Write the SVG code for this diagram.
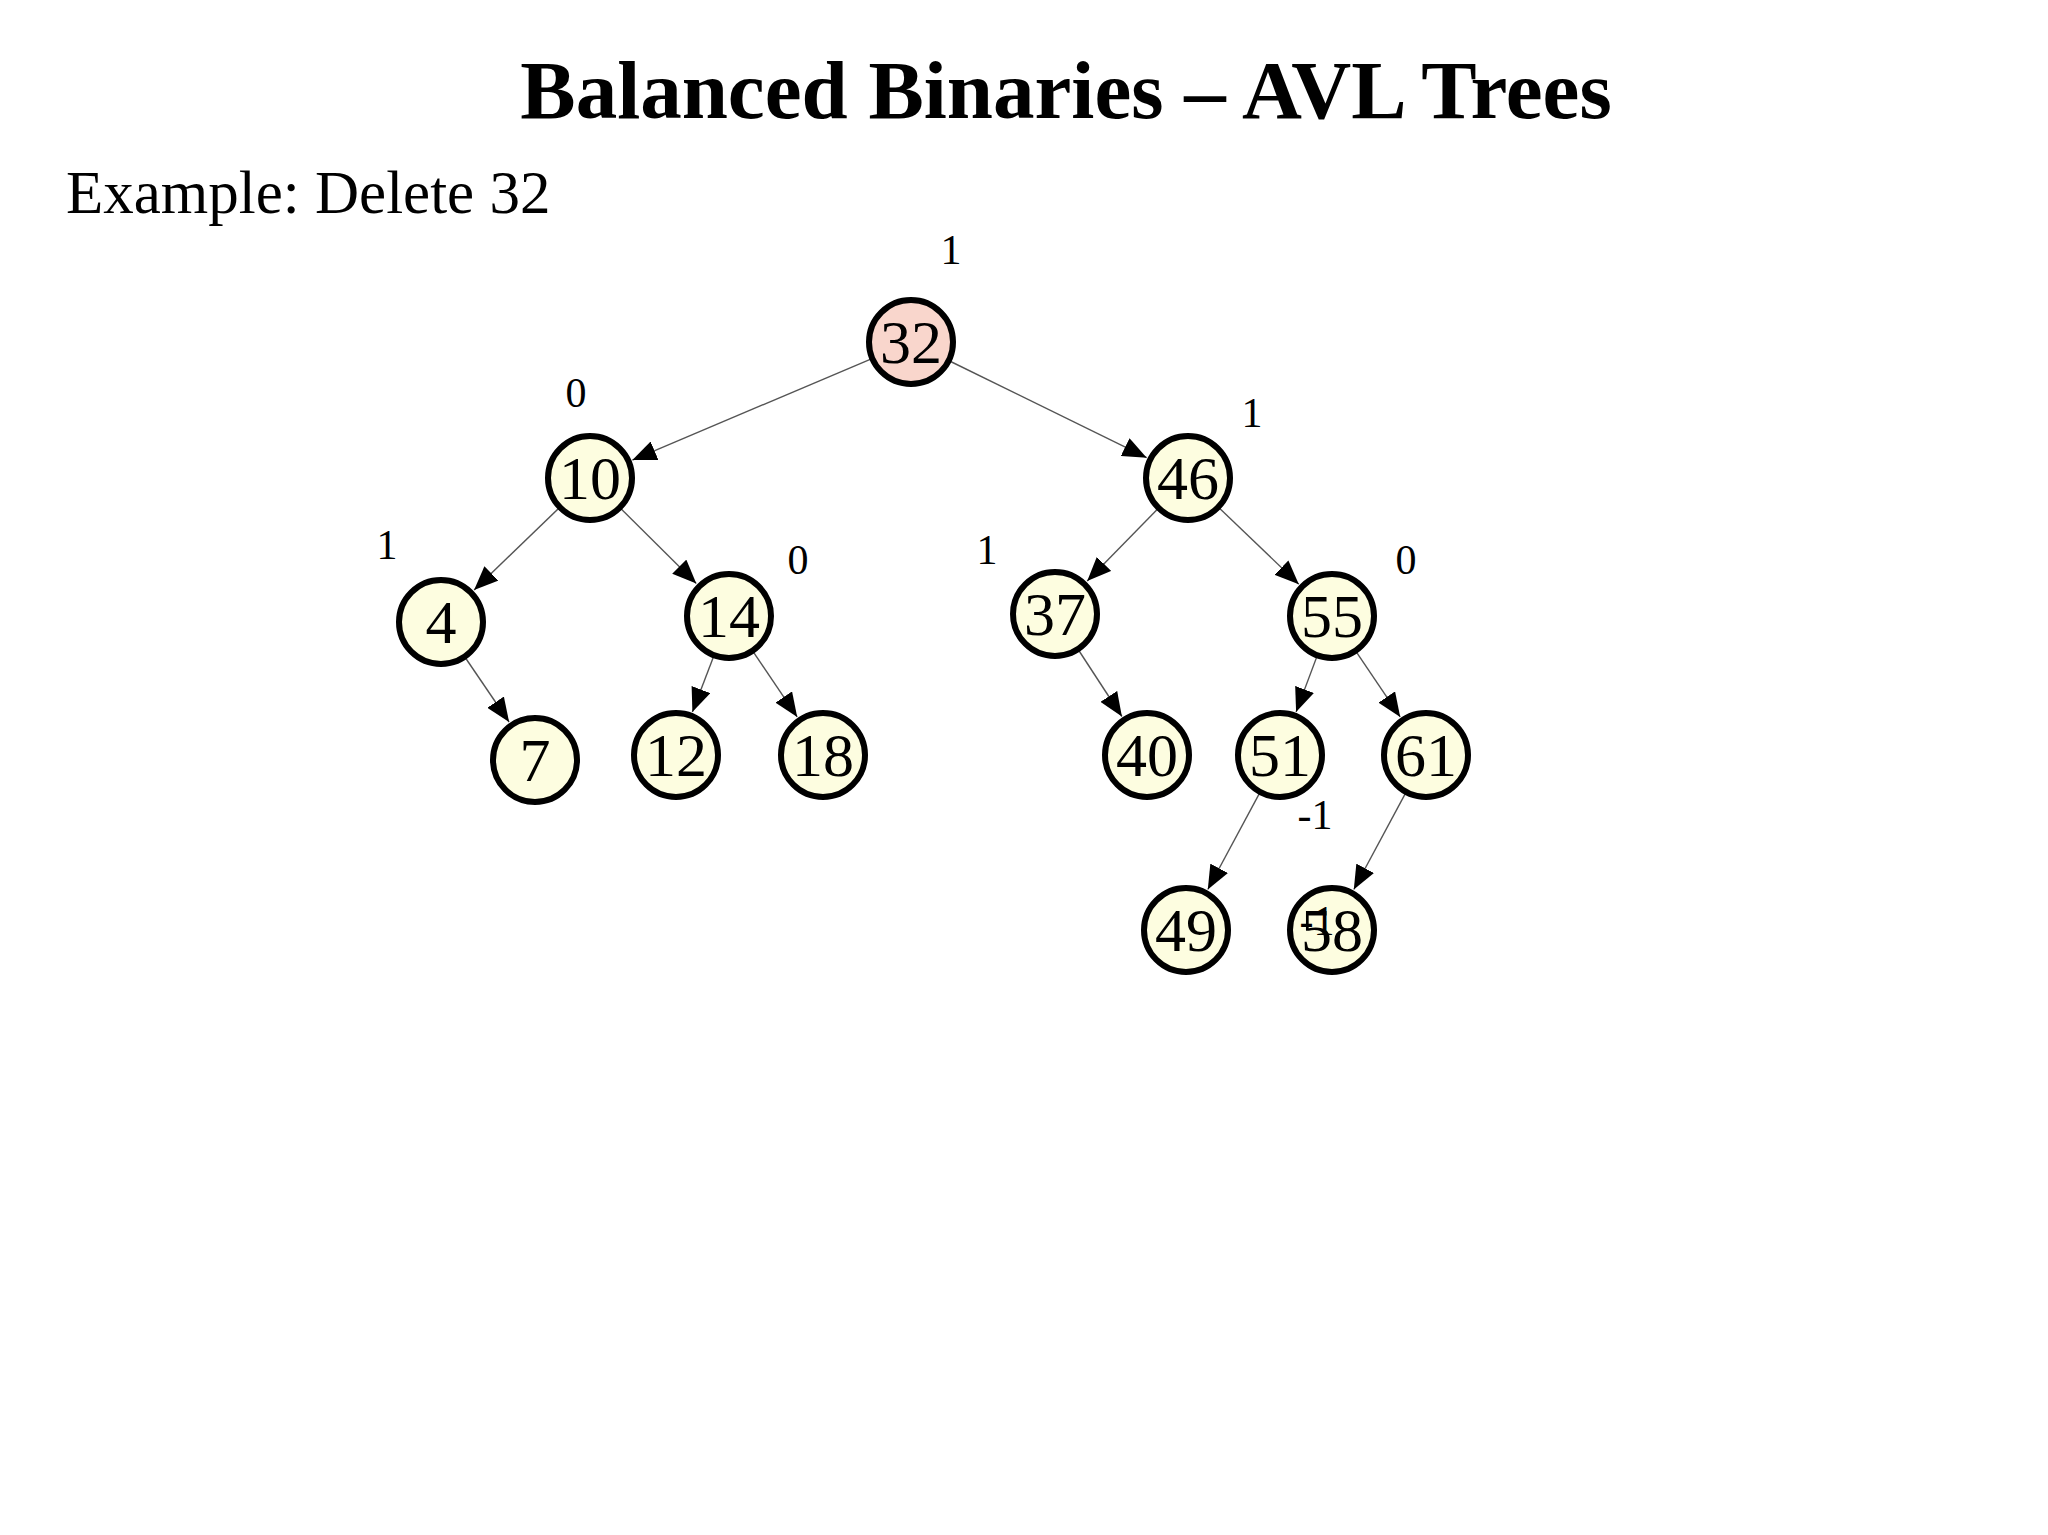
<svg xmlns="http://www.w3.org/2000/svg" width="2048" height="1535" viewBox="0 0 2048 1535">
<style>
.n{stroke:#000;stroke-width:6;fill:#fdfde0}
.r{fill:#f9d6cc}
.t{font-family:"Liberation Serif",serif;font-size:62px;text-anchor:middle}
.b{font-family:"Liberation Serif",serif;font-size:42px;text-anchor:middle}
.e line{stroke:#555;stroke-width:1.4;marker-end:url(#a)}
</style>
<defs><marker id="a" markerUnits="userSpaceOnUse" markerWidth="24" markerHeight="20" viewBox="0 0 24 20" refX="24" refY="10" orient="auto"><path d="M0,0 L24,10 L0,20 z" fill="#000"/></marker></defs>
<rect width="2048" height="1535" fill="#fff"/>
<text x="1066" y="118" font-family="Liberation Serif,serif" font-weight="bold" font-size="83" text-anchor="middle">Balanced Binaries – AVL Trees</text>
<text x="66" y="213" font-family="Liberation Serif,serif" font-size="61">Example: Delete 32</text>
<g class="e">
<line x1="871.4" y1="358.8" x2="632.4" y2="460.1"/>
<line x1="949.6" y1="361" x2="1146.7" y2="457.7"/>
<line x1="559.1" y1="507.9" x2="474.1" y2="590"/>
<line x1="620.5" y1="508.3" x2="696.3" y2="583.6"/>
<line x1="1157.9" y1="508.7" x2="1087.2" y2="581.1"/>
<line x1="1219" y1="507.8" x2="1298.8" y2="584.2"/>
<line x1="465.2" y1="657.5" x2="509.1" y2="722"/>
<line x1="713.7" y1="656.2" x2="692.4" y2="712"/>
<line x1="753.1" y1="651.6" x2="797.2" y2="716.9"/>
<line x1="1078.5" y1="650" x2="1121.9" y2="716.5"/>
<line x1="1317" y1="656.3" x2="1296.1" y2="711.9"/>
<line x1="1356.1" y1="651.6" x2="1400.2" y2="716.9"/>
<line x1="1259.7" y1="792.9" x2="1207.8" y2="889.5"/>
<line x1="1405.7" y1="792.9" x2="1353.8" y2="889.5"/>
</g>
<g id="n32"><circle class="n r" cx="911" cy="342" r="42"/><text class="t" x="911" y="363">32</text></g>
<g id="n10"><circle class="n" cx="590" cy="478" r="42"/><text class="t" x="590" y="499">10</text></g>
<g id="n46"><circle class="n" cx="1188" cy="478" r="42"/><text class="t" x="1188" y="499">46</text></g>
<g id="n4"><circle class="n" cx="441" cy="622" r="42"/><text class="t" x="441" y="643">4</text></g>
<g id="n14"><circle class="n" cx="729" cy="616" r="42"/><text class="t" x="729" y="637">14</text></g>
<g id="n37"><circle class="n" cx="1055" cy="614" r="42"/><text class="t" x="1055" y="635">37</text></g>
<g id="n55"><circle class="n" cx="1332" cy="616" r="42"/><text class="t" x="1332" y="637">55</text></g>
<g id="n7"><circle class="n" cx="535" cy="760" r="42"/><text class="t" x="535" y="781">7</text></g>
<g id="n12"><circle class="n" cx="676" cy="755" r="42"/><text class="t" x="676" y="776">12</text></g>
<g id="n18"><circle class="n" cx="823" cy="755" r="42"/><text class="t" x="823" y="776">18</text></g>
<g id="n40"><circle class="n" cx="1147" cy="755" r="42"/><text class="t" x="1147" y="776">40</text></g>
<g id="n51"><circle class="n" cx="1280" cy="755" r="42"/><text class="t" x="1280" y="776">51</text></g>
<g id="n61"><circle class="n" cx="1426" cy="755" r="42"/><text class="t" x="1426" y="776">61</text></g>
<g id="n49"><circle class="n" cx="1186" cy="930" r="42"/><text class="t" x="1186" y="951">49</text></g>
<g id="n58"><circle class="n" cx="1332" cy="930" r="42"/><text class="t" x="1332" y="951">58</text></g>
<g id="labels">
<text class="b" x="951" y="264">1</text>
<text class="b" x="576" y="407">0</text>
<text class="b" x="1252" y="427">1</text>
<text class="b" x="387" y="559">1</text>
<text class="b" x="798" y="574">0</text>
<text class="b" x="987" y="564">1</text>
<text class="b" x="1406" y="574">0</text>
<text class="b" x="1315" y="829">-1</text>
<text class="b" x="1317" y="935">-1</text>
</g>
</svg>
